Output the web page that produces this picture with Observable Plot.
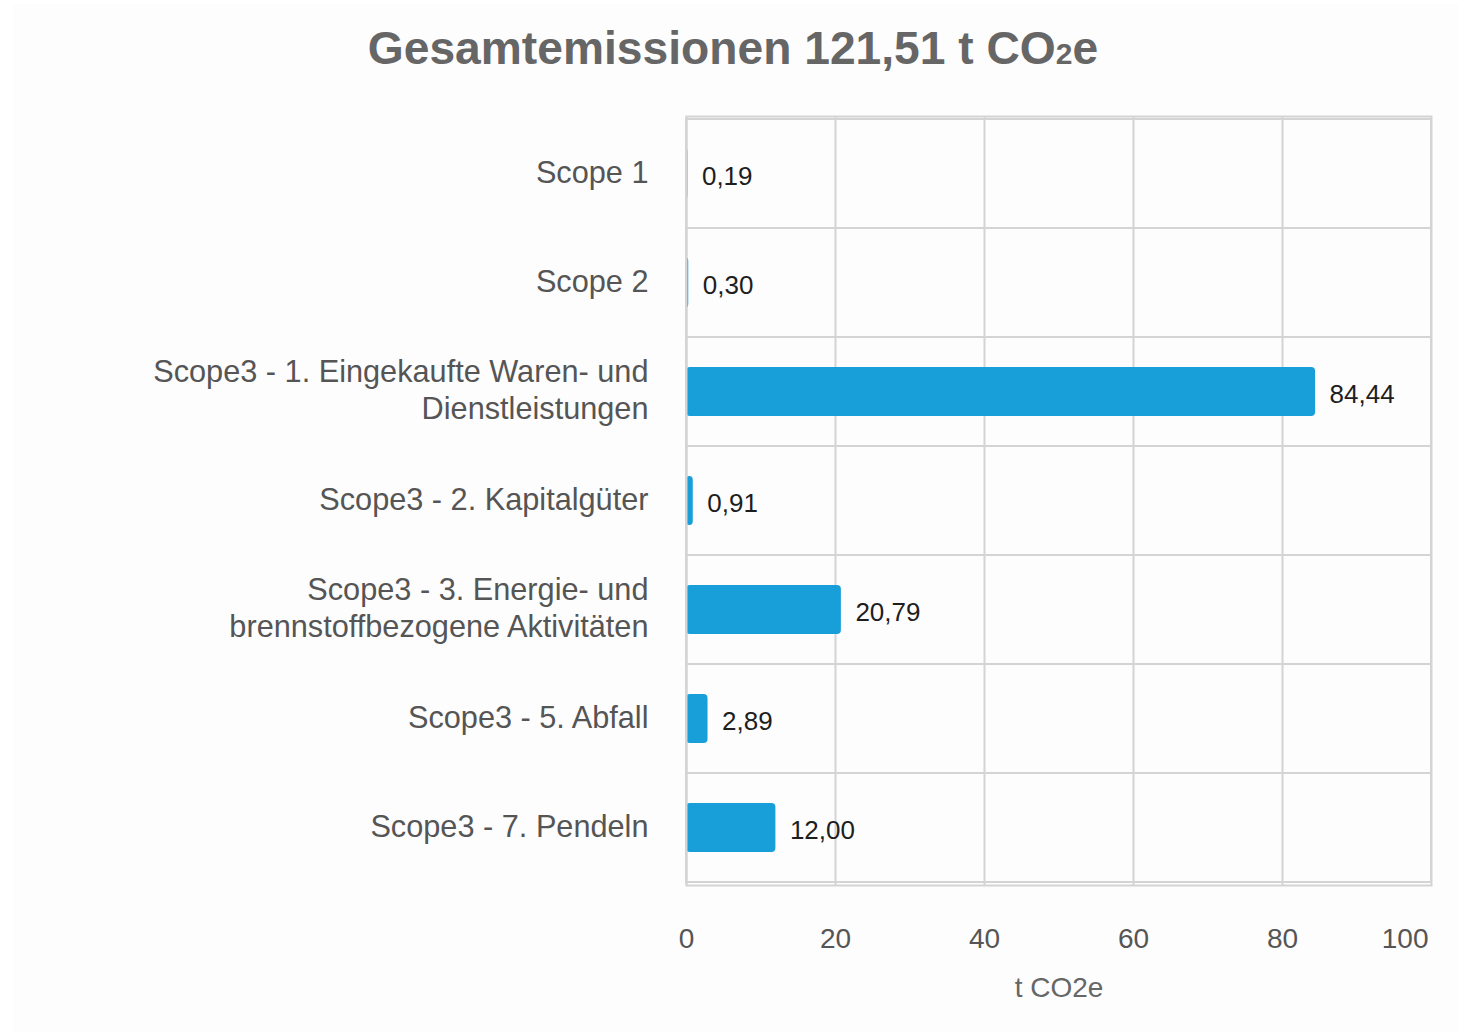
<!DOCTYPE html>
<html>
<head>
<meta charset="utf-8">
<script src="https://cdn.jsdelivr.net/npm/d3@7"></script>
<script src="https://cdn.jsdelivr.net/npm/@observablehq/plot@0.6"></script>
<style>
  html, body { margin: 0; padding: 0; background: #ffffff; }
  #card { position: absolute; left: 13px; top: 4px; width: 1445px; height: 1028px; background: #fdfdfd; }
  #wrap { position: relative; width: 1458px; }
  #title { height: 92px; box-sizing: border-box; padding-top: 25px; padding-left: 8px; text-align: center;
           font-family: "Liberation Sans", Arial, sans-serif; font-weight: bold; font-size: 46.2px;
           line-height: 46px; color: #666666; }
  #title .sub { font-size: 30px; }
  svg { display: block; }
</style>
</head>
<body>
<div id="card"></div>
<div id="wrap">
  <div id="title">Gesamtemissionen 121,51 t CO<span class="sub">2</span>e</div>
  <div id="chart"></div>
</div>
<script>
const categories = [
  "Scope 1",
  "Scope 2",
  "Scope3 - 1. Eingekaufte Waren- und Dienstleistungen",
  "Scope3 - 2. Kapitalgüter",
  "Scope3 - 3. Energie- und brennstoffbezogene Aktivitäten",
  "Scope3 - 5. Abfall",
  "Scope3 - 7. Pendeln"
];
const labels = [
  "Scope 1",
  "Scope 2",
  "Scope3 - 1. Eingekaufte Waren- und\nDienstleistungen",
  "Scope3 - 2. Kapitalgüter",
  "Scope3 - 3. Energie- und\nbrennstoffbezogene Aktivitäten",
  "Scope3 - 5. Abfall",
  "Scope3 - 7. Pendeln"
];
const values = [0.19, 0.30, 84.44, 0.91, 20.79, 2.89, 12.00];
const xTicks = [0, 20, 40, 60, 80, 100];
const xLabel = "t CO2e";

const data = categories.map((c, i) => ({category: c, label: labels[i], value: values[i]}));
const labelOf = new Map(categories.map((c, i) => [c, labels[i]]));
const fmt = v => d3.format(".2f")(v).replace(".", ",");

const grid = "#d4d4d4";
const font = "Liberation Sans, Arial, sans-serif";

const chart = Plot.plot({
  width: 1458,
  height: 940,
  marginTop: 24,
  marginBottom: 147,
  marginLeft: 686,
  marginRight: 27,
  style: {fontFamily: font, background: "transparent", overflow: "visible"},
  x: {domain: [0, 100], axis: null},
  y: {domain: categories, padding: 0, axis: null},
  marks: [
    Plot.barX(data, {y: "category", x1: 0, x2: 100, fill: "none", stroke: grid, strokeWidth: 2}),
    Plot.ruleX(xTicks.slice(1, -1), {stroke: grid, strokeWidth: 2}),
    Plot.frame({stroke: grid, strokeWidth: 2}),
    Plot.barX(data, {y: "category", x: "value", fill: "#189fd9", insetTop: 30, insetBottom: 30, rx: 4}),
    Plot.ruleX([0], {stroke: grid, strokeWidth: 2}),
    Plot.text(data, {y: "category", x: "value", text: d => fmt(d.value), dx: 14, dy: 3, textAnchor: "start",
      fontSize: 26, fill: "#1e1e1e"}),
    Plot.axisY({tickSize: 0, tickPadding: 38, fontSize: 30.7, lineHeight: 1.18, fill: "#555555", dy: -3,
      label: null, tickFormat: c => labelOf.get(c)}),
    Plot.axisX({ticks: xTicks.slice(0, -1), tickSize: 0, tickPadding: 43, fontSize: 28, fill: "#555555", label: null}),
    Plot.axisX({ticks: xTicks.slice(-1), tickSize: 0, tickPadding: 43, fontSize: 28, fill: "#555555", label: null,
      textAnchor: "end", dx: -3}),
    Plot.text([xLabel], {frameAnchor: "bottom", dy: 111, text: d => d, fontSize: 28, fill: "#666666"})
  ]
});
document.getElementById("chart").appendChild(chart);
</script>
</body>
</html>
